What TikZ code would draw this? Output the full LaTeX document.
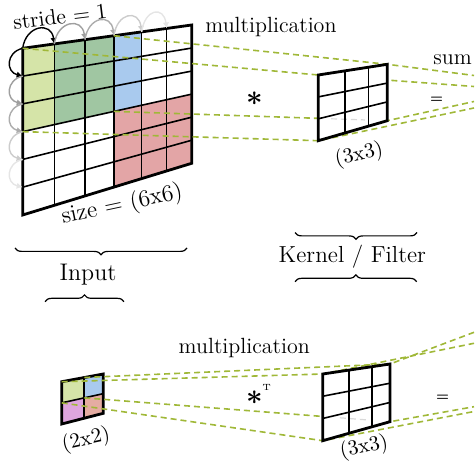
\documentclass[tikz,border=0pt]{standalone}
\usetikzlibrary{calc,arrows.meta,decorations.pathreplacing}
\definecolor{lgreen}{HTML}{D5E4A8}
\definecolor{dgreen}{HTML}{A0C6A2}
\definecolor{lblue}{HTML}{A9CAEE}
\definecolor{lred}{HTML}{E3A5A6}
\definecolor{lpink}{HTML}{DEA6DE}
\definecolor{lsalmon}{HTML}{E5ACA2}
\definecolor{dashc}{HTML}{A0B838}
\tikzset{
  gridln/.style={line width=0.8pt},
  border/.style={line width=1.4pt, line join=miter},
  dashln/.style={draw=dashc, line width=0.8pt, dash pattern=on 3pt off 2pt},
  faintln/.style={draw=gray!30, line width=0.6pt, dash pattern=on 3pt off 2pt},
  stridearr/.style={line width=0.7pt, -{Latex[length=3pt,width=3.2pt]}},
  brc/.style={decorate, decoration={brace,amplitude=3.4pt}, line width=0.6pt},
  lbl/.style={inner sep=0pt},
}
\begin{document}
\begin{tikzpicture}[x=0.5pt,y=-0.5pt]
\useasboundingbox (0,0) rectangle (474,474);
% ---------- input 6x6 ----------
\foreach \r in {0,...,6} {
  \coordinate (L\r) at (22.7,{48.3+27.78*\r});
  \coordinate (R\r) at (191.7,{25+23.05*\r});
}
\foreach \c/\t in {0/0,1/0.187,2/0.3686,3/0.540,4/0.704,5/0.852,6/1} {
  \foreach \r in {0,...,6} {
    \coordinate (p-\c-\r) at ($(L\r)!\t!(R\r)$);
  }
}
\fill[lgreen] (p-0-0) -- (p-1-0) -- (p-1-3) -- (p-0-3) -- cycle;
\fill[dgreen] (p-1-0) -- (p-3-0) -- (p-3-3) -- (p-1-3) -- cycle;
\fill[lblue] (p-3-0) -- (p-4-0) -- (p-4-3) -- (p-3-3) -- cycle;
\fill[lred] (p-3-3) -- (p-6-3) -- (p-6-6) -- (p-3-6) -- cycle;
\foreach \r in {1,...,5} \draw[gridln] (L\r) -- (R\r);
\foreach \c in {1,...,5} \draw[gridln] (p-\c-0) -- (p-\c-6);
\draw[border] (L0) -- (R0) -- (R6) -- (L6) -- cycle;
% stride arcs
\foreach \c/\n/\col in {0/1/black,1/2/gray!75,2/3/gray!65,3/4/gray!40,4/5/gray!20}
  \draw[stridearr,draw=\col] (p-\c-0) .. controls +(3,-23) and +(-3,-23) .. (p-\n-0);
\foreach \r/\n/\col in {0/1/black,1/2/gray!75,2/3/gray!65,3/4/gray!40,4/5/gray!20}
  \draw[stridearr,draw=\col] (p-0-\r) .. controls +(-17,4) and +(-17,-4) .. (p-0-\n);
% ---------- kernel (top) ----------
\coordinate (KTL) at (318.3,75);
\coordinate (KTR) at (387.3,64.3);
\coordinate (KBL) at (318.3,140.7);
\coordinate (KBR) at (387.3,120.7);
\foreach \r in {0,1,2,3} {
  \coordinate (kl\r) at ($(KTL)!{\r/3}!(KBL)$);
  \coordinate (kr\r) at ($(KTR)!{\r/3}!(KBR)$);
}
\foreach \c/\t in {1/0.387,2/0.725} {
  \coordinate (kt\c) at ($(KTL)!\t!(KTR)$);
  \coordinate (kb\c) at ($(KBL)!\t!(KBR)$);
}
\coordinate (E1) at (474,75.5);
\coordinate (E2) at (474,86.5);
\coordinate (E3) at (474,101.5);
\coordinate (E4) at (474,108);
\draw[dashln] (p-3-0) -- (KTR) -- (E1);
\draw[dashln] (p-0-0) -- (KTL) -- (E2);
\draw[dashln] (p-3-3) -- (KBR) -- (E3);
\draw[dashln] (p-0-3) -- (KBL) -- (E4);
\fill[white] (KTL) -- (KTR) -- (KBR) -- (KBL) -- cycle;
\draw[faintln] ($(p-3-3)!0.794!(KBR)$) -- ($(p-3-3)!0.918!(KBR)$);
\foreach \r in {1,2} \draw[gridln] (kl\r) -- (kr\r);
\foreach \c in {1,2} \draw[gridln] (kt\c) -- (kb\c);
\draw[border] (KTL) -- (KTR) -- (KBR) -- (KBL) -- cycle;
% ---------- labels (top) ----------
\node[lbl,rotate=7,font=\fontsize{10.8}{13}\selectfont] (stride) at (60,16.5) {stride $= 1$};
\node[lbl,rotate=12,font=\fontsize{11.8}{14}\selectfont] (size) at (122,205) {size $=$ (6x6)};
\node[lbl,anchor=base west,font=\fontsize{11}{13}\selectfont] (mult1) at (205,32.3) {multiplication};
\node[lbl,anchor=base west,font=\fontsize{11}{13}\selectfont] (sum) at (433,65) {sum};
\node[lbl,font=\Large\boldmath] (ast1) at (254.3,99) {$\ast$};
\node[lbl,font=\fontsize{6.5}{7}\selectfont\bfseries] (eq1) at (436.7,100) {=};
\node[lbl,rotate=12,font=\fontsize{10.5}{12}\selectfont] (k1lab) at (359,155) {(3x3)};
% braces and section labels
\draw[brc] (187,248) -- (15,248);
\node[lbl,anchor=base west,font=\fontsize{12}{14}\selectfont] (inputlab) at (59.3,280.7) {Input};
\draw[brc] (45,301.7) -- (124,301.7);
\draw[brc] (417,232.5) -- (295,232.5);
\node[lbl,anchor=base west,font=\fontsize{11.6}{14}\selectfont] (kernlab) at (278.3,262.7) {Kernel / Filter};
\draw[brc] (295,281.7) -- (416.7,281.7);
% ---------- 2x2 (bottom) ----------
\coordinate (STL) at (61.7,381.7);
\coordinate (STR) at (103.3,374);
\coordinate (SBL) at (61.7,424);
\coordinate (SBR) at (103.3,413.3);
\coordinate (SML) at ($(STL)!0.5!(SBL)$);
\coordinate (SMR) at ($(STR)!0.5!(SBR)$);
\coordinate (SMT) at ($(STL)!0.543!(STR)$);
\coordinate (SMB) at ($(SBL)!0.543!(SBR)$);
\coordinate (SC) at ($(SML)!0.543!(SMR)$);
\fill[lgreen] (STL) -- (SMT) -- (SC) -- (SML) -- cycle;
\fill[lblue] (SMT) -- (STR) -- (SMR) -- (SC) -- cycle;
\fill[lpink] (SML) -- (SC) -- (SMB) -- (SBL) -- cycle;
\fill[lsalmon] (SC) -- (SMR) -- (SBR) -- (SMB) -- cycle;
\draw[gridln] (SML) -- (SMR);
\draw[gridln] (SMT) -- (SMB);
\draw[border] (STL) -- (STR) -- (SBR) -- (SBL) -- cycle;
% ---------- kernel (bottom) ----------
\coordinate (JTL) at (322.7,374);
\coordinate (JTR) at (390,364);
\coordinate (JBL) at (322.7,440.7);
\coordinate (JBR) at (390,421.7);
\foreach \r in {0,1,2,3} {
  \coordinate (jl\r) at ($(JTL)!{\r/3}!(JBL)$);
  \coordinate (jr\r) at ($(JTR)!{\r/3}!(JBR)$);
}
\foreach \c/\t in {1/0.395,2/0.728} {
  \coordinate (jt\c) at ($(JTL)!\t!(JTR)$);
  \coordinate (jb\c) at ($(JBL)!\t!(JBR)$);
}
\coordinate (F1) at (474,332.3);
\coordinate (F2) at (474,343.3);
\coordinate (F3) at (474,406.7);
\coordinate (F4) at (474,411.5);
\draw[dashln] (SMT) -- (JTR) -- (F1);
\draw[dashln] (STL) -- (JTL) -- (F2);
\draw[dashln] (SC) -- (JBR) -- (F3);
\draw[dashln] (SML) -- (JBL) -- (F4);
\fill[white] (JTL) -- (JTR) -- (JBR) -- (JBL) -- cycle;
\draw[faintln] ($(SC)!0.836!(JBR)$) -- ($(SC)!0.925!(JBR)$);
\foreach \r in {1,2} \draw[gridln] (jl\r) -- (jr\r);
\foreach \c in {1,2} \draw[gridln] (jt\c) -- (jb\c);
\draw[border] (JTL) -- (JTR) -- (JBR) -- (JBL) -- cycle;
% ---------- labels (bottom) ----------
\node[lbl,anchor=base west,font=\fontsize{11}{13}\selectfont] (mult2) at (178.3,353.3) {multiplication};
\node[lbl,font=\Large\boldmath] (ast2) at (254.5,397.5) {$\ast$};
\node[lbl,anchor=south west,font=\fontsize{4.5}{5}\selectfont] (tsup) at (262,391) {T};
\node[lbl,font=\fontsize{6.5}{7}\selectfont\bfseries] (eq2) at (442.7,398.3) {=};
\node[lbl,rotate=12,font=\fontsize{10.5}{12}\selectfont] (s2lab) at (86,440) {(2x2)};
\node[lbl,rotate=12,font=\fontsize{10.5}{12}\selectfont] (k2lab) at (364,447.5) {(3x3)};
\end{tikzpicture}
\end{document}
